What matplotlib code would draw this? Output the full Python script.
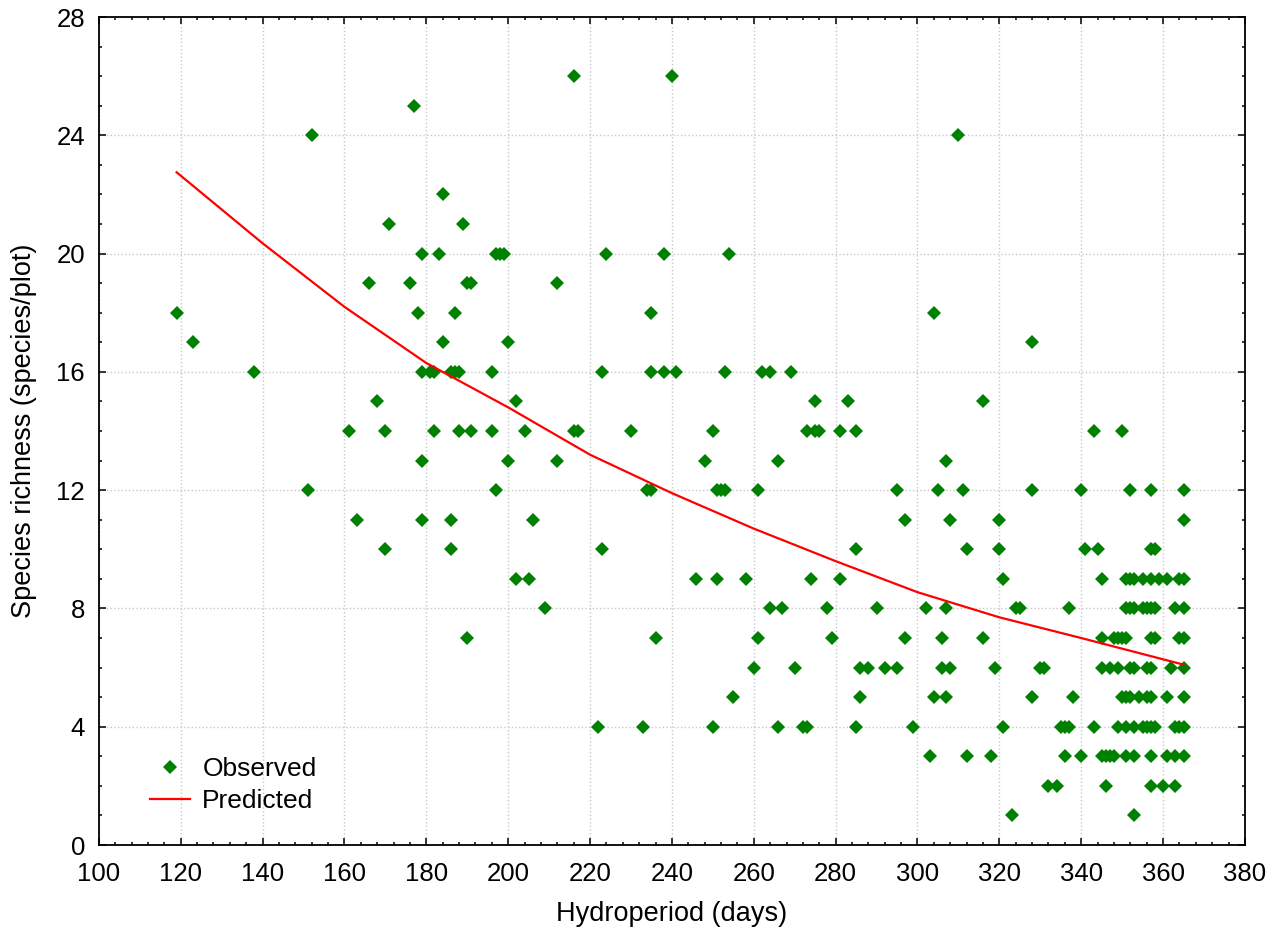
import numpy as np
import matplotlib.pyplot as plt
from matplotlib.ticker import MultipleLocator

plt.rcParams['font.family'] = ['Liberation Sans', 'DejaVu Sans']

#%% observed plots: hydroperiod (days) grouped by species richness
niveles = [26, 25, 24, 22, 21, 20, 19, 18, 17, 16, 15, 14, 13, 12, 11, 10, 9, 8, 7, 6, 5, 4, 3, 2, 1]
dias_por_nivel = [
    [216, 240],
    [177],
    [152, 310],
    [184],
    [171, 189],
    [179, 183, 197, 198, 199, 224, 238, 254],
    [166, 176, 190, 191, 212],
    [119, 178, 187, 235, 304],
    [123, 184, 200, 328],
    [138, 179, 181, 182, 186, 187, 188, 196, 223, 235, 238, 241, 253, 262, 264, 269],
    [168, 202, 275, 283, 316],
    [161, 170, 182, 188, 191, 196, 204, 216, 217, 230, 250, 273, 275, 276, 281, 285, 343, 350],
    [179, 200, 212, 248, 266, 307],
    [151, 197, 234, 235, 251, 252, 253, 261, 295, 305, 311, 328, 340, 352, 357, 365],
    [163, 179, 186, 206, 297, 308, 320, 365],
    [170, 186, 223, 285, 312, 320, 341, 344, 357, 358],
    [202, 205, 246, 251, 258, 274, 281, 321, 345, 351, 352, 353, 355, 357, 359, 361, 364, 365],
    [209, 264, 267, 278, 290, 302, 307, 324, 325, 337, 351, 352, 353, 355, 356, 357, 358, 363, 365],
    [190, 236, 261, 279, 297, 306, 316, 345, 348, 349, 350, 351, 357, 358, 364, 365],
    [260, 270, 286, 288, 292, 295, 306, 308, 319, 330, 331, 345, 347, 349, 352, 353, 356, 357, 362, 365],
    [255, 286, 304, 307, 328, 338, 350, 351, 352, 354, 356, 357, 361, 365],
    [222, 233, 250, 266, 272, 273, 285, 299, 321, 335, 336, 337, 343, 349, 351, 353, 355, 356, 357, 358, 363, 364, 365],
    [303, 312, 318, 336, 340, 345, 346, 347, 348, 351, 353, 357, 361, 363, 365],
    [332, 334, 346, 357, 360, 363],
    [323, 353],
]

#%% predicted curve
dias_pred = [119, 140, 160, 180, 200, 220, 240, 260, 280, 300, 320, 340, 365]
riq_pred = [22.75, 20.35, 18.2, 16.3, 14.8, 13.2, 11.9, 10.7, 9.6, 8.55, 7.7, 7.0, 6.1]

X = np.concatenate([np.array(d, dtype=float) for d in dias_por_nivel])
Y = np.concatenate([np.full(len(d), n, dtype=float) for n, d in zip(niveles, dias_por_nivel)])

#%%
fig = plt.figure(figsize=(12.82, 9.36), dpi=100)
ax = fig.add_axes([0.0771, 0.0972, 0.8940, 0.8846])

ax.plot(X, Y, linestyle='none', marker='D', markersize=7.2, color='#008000',
        markeredgewidth=0, label='Observed', zorder=3)
ax.plot(dias_pred, riq_pred, color='#ff0000', linewidth=1.6, label='Predicted', zorder=4)

ax.set_xlim(100, 380)
ax.set_ylim(0, 28)
ax.xaxis.set_major_locator(MultipleLocator(20))
ax.xaxis.set_minor_locator(MultipleLocator(4))
ax.yaxis.set_major_locator(MultipleLocator(4))
ax.yaxis.set_minor_locator(MultipleLocator(1))
ax.tick_params(which='both', direction='in', top=True, right=True, labelsize=18.5, width=1.1)
ax.tick_params(which='major', length=5)
ax.tick_params(which='minor', length=2.5)
ax.tick_params(axis='x', which='major', pad=12)
ax.tick_params(axis='y', which='major', pad=10)
for s in ax.spines.values():
    s.set_linewidth(1.3)

ax.grid(True, which='major', linestyle=':', color='#c8c8c8', linewidth=1.0)
ax.set_axisbelow(True)

ax.set_xlabel('Hydroperiod (days)', fontsize=19.5, labelpad=11)
ax.set_ylabel('Species richness (species/plot)', fontsize=19.5, labelpad=14)

ax.legend(loc='lower left', bbox_to_anchor=(0.035, 0.026), frameon=False, fontsize=19,
          handlelength=1.55, handletextpad=0.45, labelspacing=0.3, borderaxespad=0.0)

plt.savefig('out.png', dpi=100)
